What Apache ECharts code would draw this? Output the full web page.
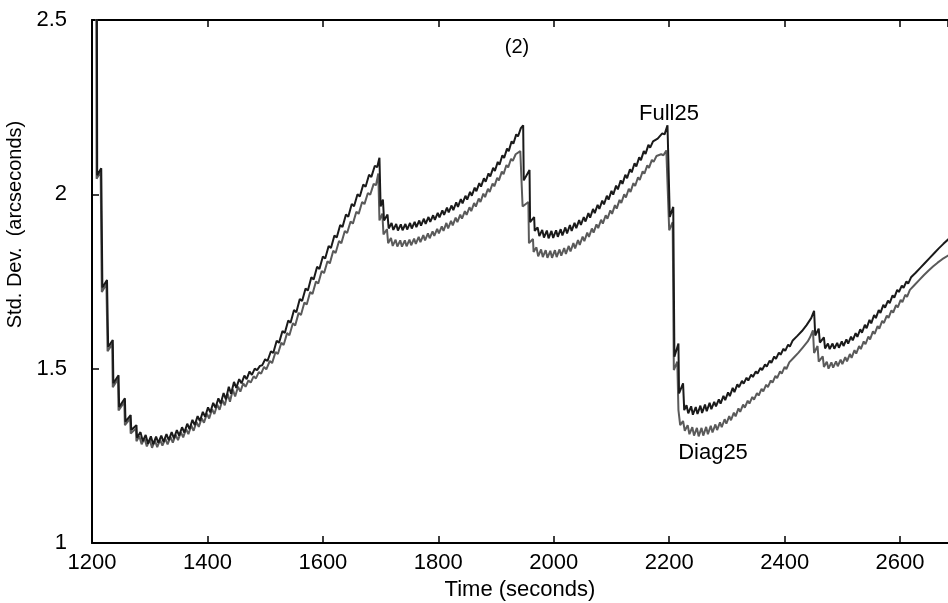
<!DOCTYPE html>
<html>
<head>
<meta charset="utf-8">
<script src="https://cdn.jsdelivr.net/npm/echarts@6/dist/echarts.min.js"></script>
<style>
html,body{margin:0;padding:0;background:#fff;}
#chart{width:948px;height:603px;}
</style>
</head>
<body>
<div id="chart"></div>
<script>
// ---- data (time in seconds, std. dev. in arcseconds) ----
const xTicks = [1200, 1400, 1600, 1800, 2000, 2200, 2400, 2600];
const yTicks = [1, 1.5, 2, 2.5];
const seriesNames = ['Full25', 'Diag25'];

const fullPoints = [
[1208,3.0],[1209,2.055],[1216,2.075],[1218,1.733],[1226,1.754],[1228,1.562],[1236,1.582],[1237,1.458],
[1246,1.481],[1247,1.390],[1257,1.415],[1258,1.348],[1267,1.367],[1268,1.324],[1277,1.338],[1278,1.302],
[1284,1.318],[1288,1.292],[1293,1.310],[1297,1.285],[1302,1.306],[1306,1.283],[1311,1.305],[1315,1.287],
[1320,1.308],[1324,1.290],[1329,1.312],[1333,1.295],[1338,1.318],[1342,1.300],[1347,1.324],[1351,1.308],
[1356,1.332],[1360,1.317],[1365,1.342],[1369,1.327],[1374,1.353],[1378,1.338],[1383,1.364],[1387,1.350],
[1392,1.376],[1396,1.362],[1401,1.389],[1405,1.375],[1410,1.402],[1414,1.388],[1419,1.415],[1423,1.400],
[1428,1.430],[1432,1.412],[1437,1.448],[1441,1.428],[1446,1.462],[1450,1.445],[1455,1.470],[1459,1.458],
[1464,1.480],[1468,1.470],[1473,1.492],[1477,1.482],[1482,1.500],[1486,1.496],[1491,1.508],[1495,1.510],
[1500,1.527],[1504,1.522],[1510,1.550],[1514,1.545],[1520,1.580],[1524,1.574],[1530,1.608],[1534,1.602],
[1540,1.638],[1544,1.632],[1550,1.668],[1554,1.662],[1560,1.700],[1564,1.694],[1570,1.730],[1574,1.724],
[1580,1.762],[1584,1.756],[1590,1.792],[1594,1.786],[1600,1.822],[1604,1.816],[1610,1.852],[1614,1.846],
[1620,1.882],[1624,1.876],[1630,1.912],[1634,1.906],[1640,1.942],[1644,1.936],[1650,1.972],[1654,1.966],
[1660,2.000],[1664,1.994],[1670,2.028],[1674,2.022],[1680,2.056],[1684,2.050],[1690,2.082],[1694,2.078],
[1698,2.105],
[1700,1.965],[1704,1.985],[1706,1.925],[1712,1.942],[1714,1.902],[1719,1.918],[1722,1.898],[1727,1.915],
[1730,1.896],[1735,1.914],[1738,1.897],[1743,1.915],[1746,1.899],[1751,1.918],[1754,1.902],[1759,1.921],
[1762,1.906],[1767,1.925],[1770,1.910],[1775,1.930],[1778,1.915],[1783,1.935],[1786,1.921],[1791,1.940],
[1794,1.927],[1799,1.947],[1802,1.934],[1807,1.954],[1810,1.941],[1815,1.962],[1818,1.948],[1823,1.968],
[1826,1.955],[1831,1.977],[1834,1.964],[1839,1.986],[1842,1.974],[1847,1.996],[1850,1.985],[1855,2.007],
[1858,1.996],[1863,2.019],[1866,2.009],[1871,2.032],[1874,2.022],[1879,2.046],[1882,2.036],[1887,2.060],
[1890,2.051],[1895,2.076],[1898,2.067],[1903,2.093],[1906,2.085],[1911,2.112],[1914,2.104],[1919,2.131],
[1922,2.124],[1927,2.152],[1930,2.145],[1935,2.172],[1938,2.166],[1943,2.190],[1947,2.198],
[1948,2.040],[1958,2.070],[1959,1.920],[1966,1.935],[1967,1.895],[1972,1.905],[1975,1.880],[1980,1.898],
[1983,1.876],[1988,1.896],[1991,1.874],[1996,1.895],[1999,1.875],[2004,1.897],[2007,1.878],[2012,1.900],
[2015,1.882],[2020,1.905],[2023,1.888],[2028,1.912],[2031,1.895],[2036,1.918],[2039,1.903],[2044,1.926],
[2047,1.912],[2052,1.935],[2055,1.922],[2060,1.946],[2063,1.933],[2068,1.958],[2071,1.946],[2076,1.970],
[2079,1.958],[2084,1.982],[2087,1.971],[2092,1.996],[2095,1.985],[2100,2.010],[2103,1.999],[2108,2.025],
[2111,2.014],[2116,2.040],[2119,2.030],[2124,2.056],[2127,2.046],[2132,2.072],[2135,2.063],[2140,2.089],
[2143,2.080],[2148,2.106],[2151,2.098],[2156,2.124],[2159,2.116],[2164,2.142],[2167,2.134],[2172,2.152],
[2175,2.148],[2180,2.160],[2183,2.155],[2188,2.175],[2192,2.172],[2197,2.198],
[2201,1.935],[2207,1.964],[2209,1.534],[2216,1.572],[2217,1.429],[2224,1.458],[2226,1.381],[2230,1.395],
[2233,1.372],[2238,1.392],[2241,1.368],[2246,1.390],[2249,1.370],[2254,1.394],[2257,1.373],[2262,1.397],
[2265,1.378],[2270,1.402],[2273,1.384],[2278,1.405],[2281,1.392],[2286,1.412],[2289,1.400],[2294,1.422],
[2297,1.410],[2302,1.432],[2305,1.421],[2310,1.445],[2313,1.433],[2318,1.455],[2321,1.447],[2326,1.465],
[2329,1.457],[2334,1.474],[2337,1.466],[2342,1.483],[2345,1.476],[2350,1.492],[2353,1.486],[2358,1.502],
[2361,1.496],[2366,1.512],[2369,1.506],[2374,1.523],[2377,1.517],[2382,1.535],[2385,1.528],[2390,1.546],
[2393,1.540],[2398,1.557],[2401,1.551],[2406,1.569],[2409,1.563],[2414,1.581],[2417,1.576],[2422,1.594],
[2425,1.589],[2430,1.608],[2433,1.603],[2438,1.625],[2441,1.620],[2446,1.645],[2451,1.666],
[2453,1.595],[2459,1.615],[2461,1.575],[2468,1.590],[2470,1.558],[2475,1.572],[2478,1.556],[2483,1.572],
[2486,1.557],[2491,1.574],[2494,1.560],[2499,1.578],[2502,1.565],[2507,1.584],[2510,1.572],[2515,1.592],
[2518,1.581],[2523,1.602],[2526,1.591],[2531,1.613],[2534,1.603],[2539,1.626],[2542,1.616],[2547,1.640],
[2550,1.630],[2555,1.654],[2558,1.645],[2563,1.668],[2566,1.660],[2571,1.683],[2574,1.675],[2579,1.695],
[2582,1.688],[2587,1.710],[2590,1.704],[2595,1.726],[2598,1.720],[2603,1.738],[2606,1.732],[2611,1.750],
[2614,1.744],[2619,1.762],[2622,1.757],[2627,1.775],[2630,1.770],[2635,1.789],[2638,1.784],[2643,1.803],
[2646,1.798],[2651,1.817],[2654,1.812],[2659,1.831],[2662,1.826],[2667,1.845],[2670,1.840],[2675,1.858],
[2678,1.853],[2684,1.872]
];

const diagPoints = [
[1207,3.0],[1208,2.045],[1215,2.065],[1217,1.720],[1225,1.742],[1227,1.550],[1235,1.570],[1236,1.447],
[1245,1.470],[1246,1.380],[1256,1.404],[1257,1.338],[1266,1.357],[1267,1.314],[1276,1.328],[1277,1.292],
[1282,1.306],[1286,1.283],[1291,1.300],[1295,1.277],[1300,1.296],[1304,1.273],[1309,1.294],[1313,1.275],
[1318,1.296],[1322,1.279],[1327,1.299],[1331,1.283],[1336,1.304],[1340,1.288],[1345,1.310],[1349,1.295],
[1354,1.318],[1358,1.303],[1363,1.327],[1367,1.312],[1372,1.337],[1376,1.322],[1381,1.347],[1385,1.333],
[1390,1.358],[1394,1.345],[1399,1.371],[1403,1.357],[1408,1.384],[1412,1.370],[1417,1.397],[1421,1.382],
[1426,1.410],[1430,1.395],[1435,1.428],[1439,1.405],[1444,1.440],[1448,1.420],[1453,1.448],[1457,1.434],
[1462,1.458],[1466,1.448],[1471,1.466],[1475,1.460],[1480,1.478],[1484,1.472],[1489,1.490],[1493,1.486],
[1498,1.505],[1502,1.498],[1508,1.522],[1512,1.516],[1518,1.548],[1522,1.542],[1528,1.574],[1532,1.568],
[1538,1.602],[1542,1.596],[1548,1.630],[1552,1.624],[1558,1.660],[1562,1.654],[1568,1.690],[1572,1.684],
[1578,1.720],[1582,1.714],[1588,1.750],[1592,1.744],[1598,1.780],[1602,1.774],[1608,1.808],[1612,1.802],
[1618,1.838],[1622,1.832],[1628,1.866],[1632,1.860],[1638,1.895],[1642,1.889],[1648,1.922],[1652,1.916],
[1658,1.950],[1662,1.944],[1668,1.978],[1672,1.972],[1678,2.004],[1682,1.999],[1688,2.030],[1692,2.026],
[1696,2.060],
[1698,1.925],[1703,1.945],[1705,1.885],[1711,1.900],[1713,1.860],[1718,1.875],[1721,1.852],[1726,1.870],
[1729,1.850],[1734,1.868],[1737,1.850],[1742,1.868],[1745,1.851],[1750,1.870],[1753,1.854],[1758,1.873],
[1761,1.858],[1766,1.878],[1769,1.863],[1774,1.883],[1777,1.868],[1782,1.888],[1785,1.874],[1790,1.894],
[1793,1.881],[1798,1.901],[1801,1.888],[1806,1.908],[1809,1.895],[1814,1.918],[1817,1.902],[1822,1.924],
[1825,1.911],[1830,1.933],[1833,1.920],[1838,1.942],[1841,1.930],[1846,1.952],[1849,1.941],[1854,1.963],
[1857,1.952],[1862,1.975],[1865,1.965],[1870,1.988],[1873,1.978],[1878,2.002],[1881,1.992],[1886,2.016],
[1889,2.007],[1894,2.031],[1897,2.023],[1902,2.047],[1905,2.040],[1910,2.065],[1913,2.058],[1918,2.084],
[1921,2.077],[1926,2.102],[1929,2.096],[1934,2.115],[1937,2.110],[1942,2.124],[1945,2.128],
[1946,1.965],[1956,1.978],[1957,1.860],[1964,1.872],[1965,1.835],[1970,1.848],[1973,1.822],[1978,1.842],
[1981,1.820],[1986,1.840],[1989,1.818],[1994,1.838],[1997,1.818],[2002,1.840],[2005,1.820],[2010,1.842],
[2013,1.824],[2018,1.846],[2021,1.829],[2026,1.852],[2029,1.836],[2034,1.860],[2037,1.845],[2042,1.869],
[2045,1.855],[2050,1.879],[2053,1.866],[2058,1.890],[2061,1.878],[2066,1.902],[2069,1.890],[2074,1.914],
[2077,1.903],[2082,1.927],[2085,1.916],[2090,1.940],[2093,1.930],[2098,1.954],[2101,1.944],[2106,1.969],
[2109,1.959],[2114,1.984],[2117,1.975],[2122,2.000],[2125,1.991],[2130,2.016],[2133,2.007],[2138,2.032],
[2141,2.024],[2146,2.049],[2149,2.041],[2154,2.066],[2157,2.059],[2162,2.083],[2165,2.076],[2170,2.099],
[2173,2.093],[2178,2.110],[2181,2.105],[2186,2.115],[2190,2.112],[2195,2.126],
[2200,1.897],[2206,1.920],[2208,1.496],[2214,1.520],[2216,1.381],[2219,1.338],[2224,1.350],[2227,1.322],
[2232,1.338],[2235,1.312],[2240,1.332],[2243,1.308],[2248,1.330],[2251,1.306],[2256,1.330],[2259,1.308],
[2264,1.333],[2267,1.312],[2272,1.336],[2275,1.317],[2280,1.340],[2283,1.324],[2288,1.346],[2291,1.332],
[2296,1.355],[2299,1.342],[2304,1.364],[2307,1.352],[2312,1.374],[2315,1.363],[2320,1.386],[2323,1.376],
[2328,1.397],[2331,1.388],[2336,1.408],[2339,1.400],[2344,1.419],[2347,1.411],[2352,1.430],[2355,1.423],
[2360,1.442],[2363,1.435],[2368,1.454],[2371,1.447],[2376,1.466],[2379,1.460],[2384,1.479],[2387,1.473],
[2392,1.492],[2395,1.486],[2400,1.505],[2403,1.499],[2408,1.518],[2411,1.513],[2416,1.532],[2419,1.527],
[2424,1.546],[2427,1.541],[2432,1.562],[2435,1.557],[2440,1.578],[2444,1.590],[2449,1.610],
[2451,1.545],[2457,1.565],[2459,1.520],[2466,1.535],[2468,1.505],[2473,1.520],[2476,1.500],[2481,1.518],
[2484,1.503],[2489,1.521],[2492,1.507],[2497,1.526],[2500,1.513],[2505,1.533],[2508,1.521],[2513,1.542],
[2516,1.531],[2521,1.553],[2524,1.543],[2529,1.565],[2532,1.556],[2537,1.578],[2540,1.570],[2545,1.592],
[2548,1.584],[2553,1.607],[2556,1.600],[2561,1.622],[2564,1.615],[2569,1.637],[2572,1.631],[2577,1.652],
[2580,1.646],[2585,1.667],[2588,1.661],[2593,1.682],[2596,1.676],[2601,1.697],[2604,1.691],[2609,1.712],
[2612,1.706],[2617,1.726],[2620,1.721],[2625,1.740],[2628,1.735],[2633,1.754],[2636,1.749],[2641,1.768],
[2644,1.763],[2649,1.781],[2652,1.777],[2657,1.793],[2660,1.789],[2665,1.804],[2668,1.800],[2673,1.814],
[2676,1.810],[2684,1.825]
];

// ---- chart ----
const FONT = "'Liberation Sans', Arial, sans-serif";
const chart = echarts.init(document.getElementById('chart'), null, {renderer: 'canvas'});

const xMin = xTicks[0], xMax = 2683, xStep = xTicks[1] - xTicks[0];
const yMin = yTicks[0], yMax = yTicks[yTicks.length - 1], yStep = yTicks[1] - yTicks[0];

function xLabel(v) { return xTicks.indexOf(v) >= 0 ? String(v) : ''; }

chart.setOption({
  animation: false,
  backgroundColor: '#ffffff',
  grid: {left: 92, right: 0, top: 20, bottom: 60, containLabel: false, outerBoundsMode: 'none'},
  xAxis: [{
    type: 'value', min: xMin, max: xMax, interval: xStep, position: 'bottom',
    name: 'Time (seconds)', nameLocation: 'middle', nameGap: 33,
    nameTextStyle: {fontFamily: FONT, fontSize: 22, color: '#000'},
    axisLine: {show: true, onZero: false, lineStyle: {color: '#000', width: 2}},
    axisTick: {show: true, inside: true, length: 7, lineStyle: {color: '#000', width: 1.5}},
    axisLabel: {show: true, margin: 9, fontFamily: FONT, fontSize: 22, color: '#000',
      showMaxLabel: false, formatter: xLabel},
    splitLine: {show: false}
  }, {
    type: 'value', min: xMin, max: xMax, interval: xStep, position: 'top',
    axisLine: {show: true, onZero: false, lineStyle: {color: '#000', width: 2}},
    axisTick: {show: true, inside: true, length: 7, lineStyle: {color: '#000', width: 1.5}},
    axisLabel: {show: false},
    splitLine: {show: false}
  }],
  yAxis: [{
    type: 'value', min: yMin, max: yMax, interval: yStep, position: 'left',
    name: 'Std. Dev.  (arcseconds)', nameLocation: 'middle', nameGap: 64, nameRotate: 90,
    nameTextStyle: {fontFamily: FONT, fontSize: 20, color: '#000', padding: [0, 0, 0, 114]},
    axisLine: {show: true, onZero: false, lineStyle: {color: '#000', width: 2}},
    axisTick: {show: true, inside: true, length: 7, lineStyle: {color: '#000', width: 1.5}},
    axisLabel: {show: true, margin: 25, fontFamily: FONT, fontSize: 22, color: '#000',
      formatter: v => String(v)},
    splitLine: {show: false}
  }],
  graphic: [
    {type: 'text', x: 517, y: 47, style: {text: '(2)', font: '20px ' + FONT, fill: '#000', align: 'center', verticalAlign: 'middle'}},
    {type: 'text', x: 669, y: 114, style: {text: seriesNames[0], font: '22px ' + FONT, fill: '#000', align: 'center', verticalAlign: 'middle'}},
    {type: 'text', x: 713, y: 453, style: {text: seriesNames[1], font: '22px ' + FONT, fill: '#000', align: 'center', verticalAlign: 'middle'}}
  ],
  series: [{
    name: seriesNames[1], type: 'line', data: diagPoints, showSymbol: false, symbol: 'none',
    clip: true, lineStyle: {color: '#5a5a5a', width: 2}, z: 2
  }, {
    name: seriesNames[0], type: 'line', data: fullPoints, showSymbol: false, symbol: 'none',
    clip: true, lineStyle: {color: '#1a1a1a', width: 2}, z: 3
  }]
});
</script>
</body>
</html>
